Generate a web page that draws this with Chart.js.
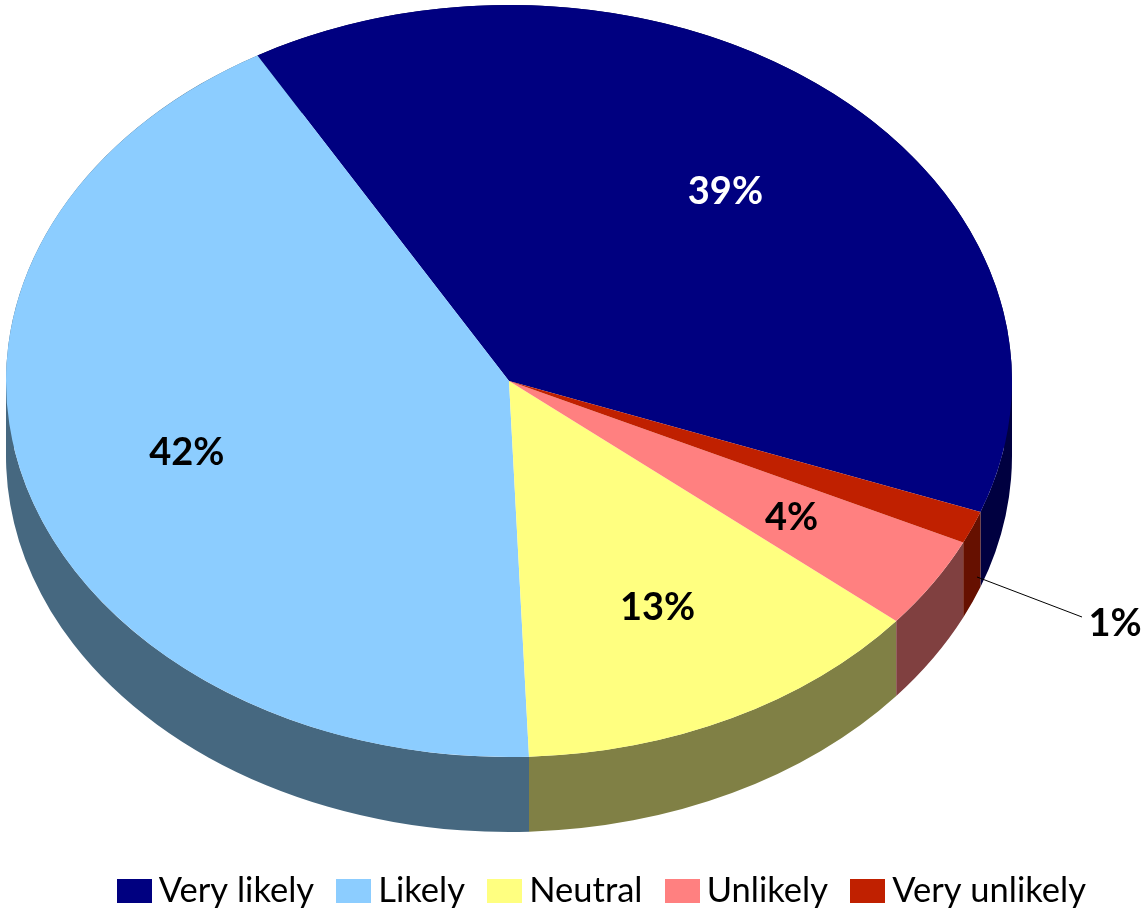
<!DOCTYPE html>
<html>
<head>
<meta charset="utf-8">
<title>Likelihood pie</title>
<script src="https://cdn.jsdelivr.net/npm/chart.js@4"></script>
<style>
  html, body { margin: 0; padding: 0; background: #fff; overflow: hidden; }
  canvas { display: block; }
</style>
</head>
<body>
<canvas id="pie" width="1141" height="911"></canvas>
<script>
// values, in legend order
var categories = ["Very likely", "Likely", "Neutral", "Unlikely", "Very unlikely"];
var shares = [39.0, 42.3, 13.35, 3.95, 1.4];
var topColors = ["#000080", "#8ccdff", "#ffff80", "#ff8080", "#c02000"];
var sideColors = ["#000040", "#466880", "#808045", "#804040", "#661000"];
var labelColors = ["#ffffff", "#000000", "#000000", "#000000", "#000000"];

// the fake 3D tilt: an ellipse plus a darker rim band below it
var centerX = 509;
var centerY = 381;
var tilt = 0.7475;
var depth = 75;

function swatch(color) {
  var c = document.createElement("canvas");
  c.width = 35;
  c.height = 24;
  var g = c.getContext("2d");
  g.fillStyle = color;
  g.fillRect(0, 0, 35, 24);
  return c;
}

var tiltedPie = {
  id: "tiltedPie",
  beforeDatasetsDraw: function (chart) {
    var ctx = chart.ctx;
    var arcs = chart.getDatasetMeta(0).data;
    ctx.save();
    ctx.translate(centerX, centerY);
    ctx.scale(-1, tilt);
    ctx.translate(-arcs[0].x, -arcs[0].y);
    // rim first, the library then draws the top face inside this transform
    for (var i = 0; i < arcs.length; i++) {
      var a = arcs[i];
      ctx.beginPath();
      ctx.arc(a.x, a.y + depth / tilt, a.outerRadius, a.startAngle, a.endAngle);
      ctx.arc(a.x, a.y, a.outerRadius, a.endAngle, a.startAngle, true);
      ctx.closePath();
      ctx.fillStyle = sideColors[i];
      ctx.fill();
      // the two ellipses cross near the far left and right, fill that sliver
      [0, Math.PI, -Math.PI].forEach(function (edge) {
        if (a.startAngle <= edge && edge <= a.endAngle) {
          var w = 8 * Math.cos(edge);
          ctx.fillRect(a.x + a.outerRadius * Math.cos(edge) - w, a.y, w, depth / tilt);
        }
      });
    }
  },
  afterDatasetsDraw: function (chart) {
    var ctx = chart.ctx;
    ctx.restore();
    var arcs = chart.getDatasetMeta(0).data;
    ctx.font = "bold 38px Lato";
    ctx.textAlign = "center";
    ctx.textBaseline = "middle";
    for (var i = 0; i < arcs.length; i++) {
      var text = shares[i].toFixed(0) + "%";
      ctx.fillStyle = labelColors[i];
      if (i == 4) {
        // too thin for its label, so it goes outside with a leader
        ctx.fillText(text, 1115, 624);
        continue;
      }
      var mid = (arcs[i].startAngle + arcs[i].endAngle) / 2;
      var r = arcs[i].outerRadius * 2 / 3;
      ctx.fillText(text, centerX - Math.cos(mid) * r, centerY + Math.sin(mid) * r * tilt + 2);
    }
    ctx.beginPath();
    ctx.moveTo(977, 577);
    ctx.lineTo(1082, 617);
    ctx.strokeStyle = "#000000";
    ctx.lineWidth = 1;
    ctx.stroke();
  }
};

var fontSize = 34.5;

new Chart(document.getElementById("pie"), {
  type: "pie",
  data: {
    labels: categories,
    datasets: [{
      data: shares,
      backgroundColor: topColors,
      borderWidth: 0,
      clip: false
    }]
  },
  options: {
    responsive: false,
    animation: false,
    events: [],
    radius: 503,
    rotation: -110.4,
    layout: { padding: { left: 72, bottom: -7 } },
    plugins: {
      tooltip: { enabled: false },
      legend: {
        position: "bottom",
        labels: {
          usePointStyle: true,
          pointStyleWidth: 49 - fontSize,
          padding: 32.5,
          color: "#000000",
          font: { family: "Lato", size: fontSize },
          generateLabels: function (chart) {
            var items = Chart.overrides.pie.plugins.legend.labels.generateLabels(chart);
            items.forEach(function (item, i) {
              item.pointStyle = swatch(topColors[i]);
            });
            return items;
          }
        }
      }
    }
  },
  plugins: [tiltedPie]
});
</script>
</body>
</html>
